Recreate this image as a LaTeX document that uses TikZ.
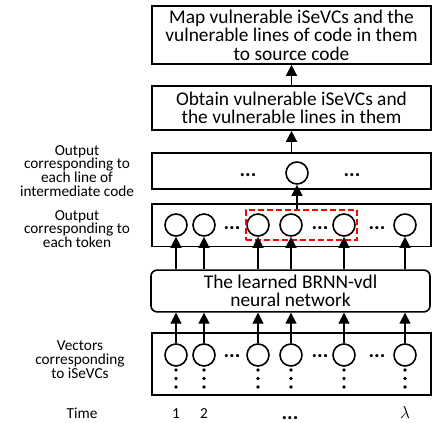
\documentclass[tikz,border=0pt]{standalone}
\usepackage{fontspec}
\setmainfont{Carlito}
\usetikzlibrary{positioning, arrows.meta}

\begin{document}
\begin{tikzpicture}[x=1pt, y=-1pt, line width=1.6pt,
  box/.style={draw, minimum width=279pt, inner sep=0pt, align=center, font=\fontsize{19.4}{18.4}\selectfont},
  cell/.style={circle, draw, minimum size=22pt, inner sep=0pt},
  side/.style={align=center, font=\fontsize{15.3}{13.9}\selectfont},
  dots/.style={anchor=base, inner sep=0pt, font=\fontsize{21}{21}\selectfont\bfseries},
  up/.style={-{Triangle[length=11pt,width=11pt]}, line width=1.3pt}]

\useasboundingbox (0,0) rectangle (432,423);

% boxes
\node[box, minimum height=58pt] (map) at (291.5,35) {Map vulnerable iSeVCs and the\\vulnerable lines of code in them\\to source code};
\node[box, minimum height=44pt] (obtain) at (291.5,108) {Obtain vulnerable iSeVCs and\\the vulnerable lines in them};
\node[box, minimum height=36.5pt] (lines) at (291.5,171) {};
\node[box, minimum height=42.7pt] (tokens) at (291.5,225.3) {};
\node[box, rounded corners=6pt, minimum height=41.7pt] (brnn) at (290.5,291) {The learned BRNN-vdl\\neural network};
\node[box, minimum height=62pt] (vec) at (291.5,364) {};

% circles
\node[cell] (out) at (297,173) {};
\foreach \n/\x in {1/176,2/204,3/258,4/291,5/344,6/405} {
  \node[cell] (t\n) at (\x,225) {};
  \node[cell] (v\n) at (\x,355) {};
  \foreach \d in {0,8.5,17} \fill (\x,370+\d) circle (1.8pt);
}

% dots
\node[dots] (l1) at (248,176) {...};
\node[dots] (l2) at (352,176) {...};
\foreach \n/\x in {1/232,2/320,3/377} {
  \node[dots] (td\n) at (\x,229) {...};
  \node[dots] (vd\n) at (\x,357.5) {...};
}

% selected tokens
\node[draw=red, dash pattern=on 6pt off 3pt, minimum width=111pt, minimum height=30pt, inner sep=0pt] (sel) at (301.3,225) {};

% arrows
\draw[up] (obtain.north) -- (map.south);
\draw[up] (lines.north) -- (obtain.south);
\draw[up] (sel.north -| out.south) -- (out.south);
\foreach \n in {1,...,6} {
  \draw[up] (brnn.north -| t\n.south) -- (t\n.south);
  \draw[up] (v\n.north) -- (brnn.south -| v\n.north);
}

% labels
\node[side] (lblines) at (77,171) {Output\\corresponding to\\each line of\\intermediate code};
\node[side] (lbtok) at (77,229) {Output\\corresponding to\\each token};
\node[side] (lbvec) at (80,360) {Vectors\\corresponding\\to iSeVCs};

\node[side, anchor=base] (time) at (82,418) {Time};
\node[side, anchor=base] (s1) at (176,418) {1};
\node[side, anchor=base] (s2) at (204,418) {2};
\node[dots, anchor=base] (sd) at (290,419) {...};
\node[side, anchor=base] (sl) at (405,418) {\fontsize{17}{17}\selectfont\(\lambda\)};

\end{tikzpicture}
\end{document}
